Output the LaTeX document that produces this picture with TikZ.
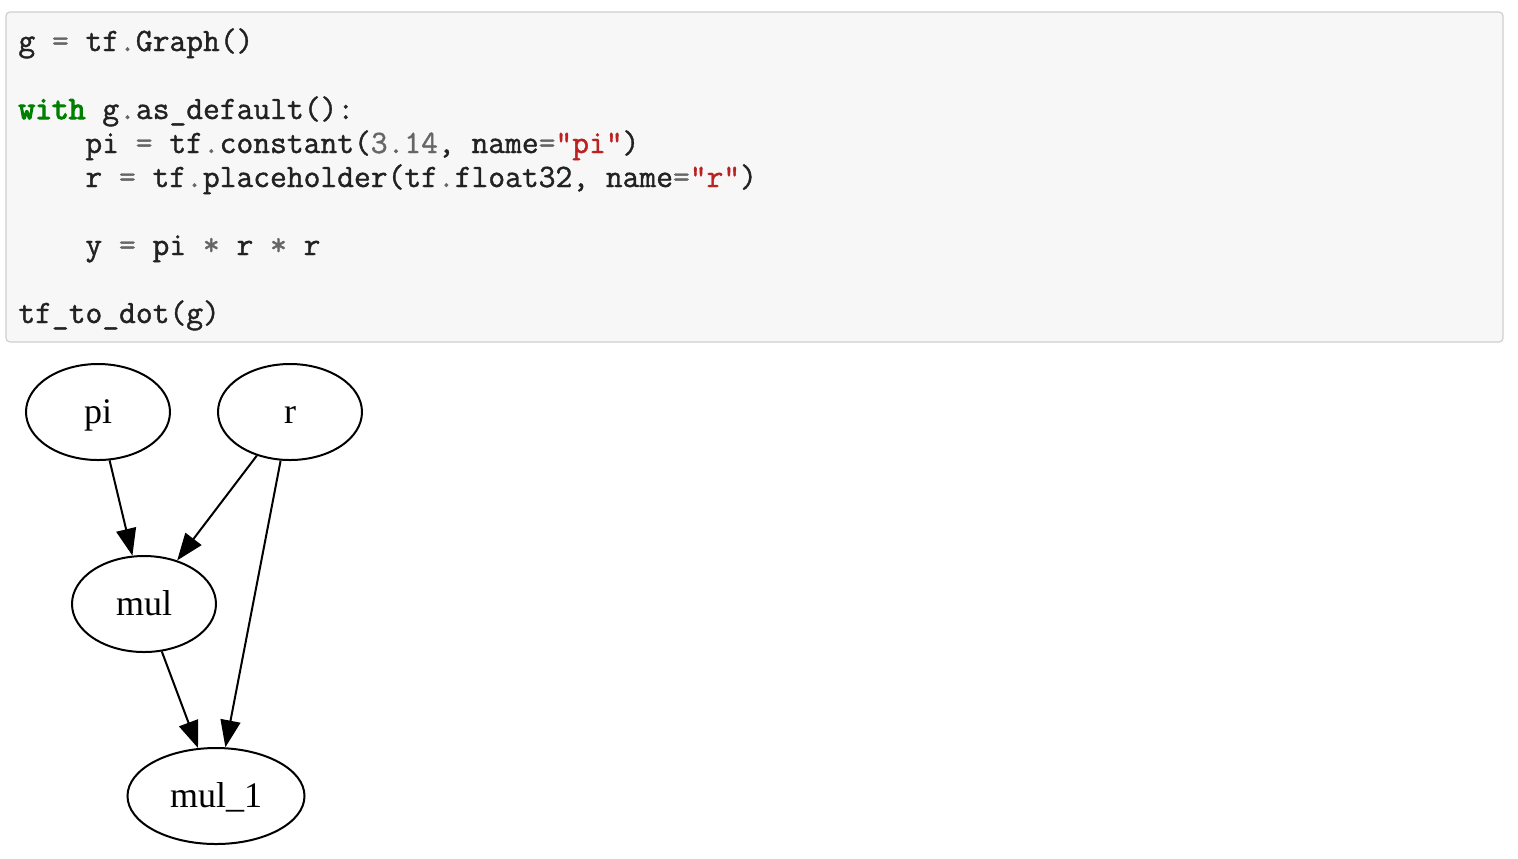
\documentclass[tikz,border=0pt]{standalone}
\usepackage{fontspec}
\setmainfont{Liberation Serif}
\newfontfamily\codefont{Latin Modern Mono}[FakeBold=1.2]
\usetikzlibrary{arrows.meta,shapes.geometric}
\definecolor{codebg}{HTML}{F7F7F7}
\definecolor{codeborder}{HTML}{CFCFCF}
\definecolor{codetext}{HTML}{222222}
\definecolor{kwgreen}{HTML}{008000}
\definecolor{opgray}{HTML}{666666}
\definecolor{strred}{HTML}{BA2121}
\newcommand{\cop}[1]{\textcolor{opgray}{#1}}
\newcommand{\ckw}[1]{\textcolor{kwgreen}{\addfontfeature{FakeBold=3.5}#1}}
\newcommand{\cstr}[1]{\textcolor{strred}{#1}}
\newcommand{\codesetup}{\codefont\fontsize{16.3}{17}\selectfont}
\begin{document}
\begin{tikzpicture}[x=0.5pt,y=-0.5pt,
  codeline/.style={anchor=base west,inner sep=0pt,text=codetext,
    font=\codesetup},
  gnode/.style={draw,ellipse,line width=1pt,inner sep=0pt,
    minimum width=72pt,minimum height=48pt,
    font=\fontsize{18}{20}\selectfont,text height=13.5pt,text depth=2.5pt},
  gedge/.style={draw,line width=1pt,-{Triangle[length=13.5pt,width=10pt]}}]
\useasboundingbox (0,0) rectangle (1518,858);
\fill[white] (0,0) rectangle (1518,858);
% code cell
\draw[fill=codebg,draw=codeborder,line width=0.6pt,rounded corners=2pt] (6,12) rectangle (1503,342);
\node[codeline] (l1) at (18,51) {g \cop{=} tf\cop{.}Graph()};
\node[codeline] (l2) at (18,119) {\ckw{with} g\cop{.}as\_default():};
\node[codeline] (l3) at (85,153) {pi \cop{=} tf\cop{.}constant(\cop{3.14}, name\cop{=}\cstr{"pi"})};
\node[codeline] (l4) at (85,187) {r \cop{=} tf\cop{.}placeholder(tf\cop{.}float32, name\cop{=}\cstr{"r"})};
\node[codeline] (l5) at (85,255) {y \cop{=} pi \cop{*} r \cop{*} r};
\node[codeline] (l6) at (18,323) {tf\_to\_dot(g)};
% graph
\node[gnode] (pi) at (98,412) {pi};
\node[gnode] (r) at (290,412) {r};
\node[gnode] (mul) at (144,604) {mul};
\node[gnode,minimum width=88.5pt] (mul1) at (216,796) {mul\_1};
\draw[gedge] (pi) -- (mul);
\draw[gedge] (r) -- (mul);
\draw[gedge] (r) -- (mul1);
\draw[gedge] (mul) -- (mul1);
\end{tikzpicture}
\end{document}
